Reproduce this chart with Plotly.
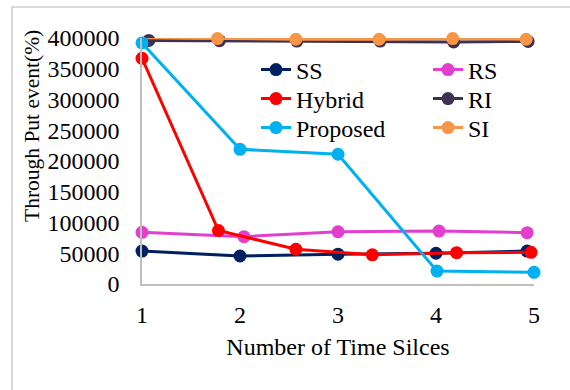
import plotly.graph_objects as go

# ---- data ----
ss_x = [1, 2, 3, 4, 4.93]
ss_y = [53500, 45500, 48500, 50000, 53500]

rs_x = [1, 2.04, 3, 4.03, 4.93]
rs_y = [84000, 77000, 85000, 86000, 83500]

hybrid_x = [1, 1.78, 2.57, 3.35, 4.21, 4.97]
hybrid_y = [367000, 87000, 56500, 47500, 51000, 51500]

ri_x = [1.07, 1.79, 2.58, 3.43, 4.18, 4.94]
ri_y = [396000, 395500, 395000, 395000, 393500, 394500]

proposed_x = [1, 2, 3, 4.01, 5]
proposed_y = [392000, 219000, 211000, 21000, 19000]

si_x = [1.05, 1.77, 2.57, 3.42, 4.17, 4.92]
si_y = [400500, 399000, 398000, 398000, 399000, 398000]

x_ticks = [1, 2, 3, 4, 5]
y_ticks = [0, 50000, 100000, 150000, 200000, 250000, 300000, 350000, 400000]

series = [
    ("SS", ss_x, ss_y, "#002060"),
    ("RS", rs_x, rs_y, "#E33FCF"),
    ("Hybrid", hybrid_x, hybrid_y, "#FF0000"),
    ("RI", ri_x, ri_y, "#403152"),
    ("Proposed", proposed_x, proposed_y, "#00B0F0"),
    ("SI", si_x, si_y, "#F79646"),
]

FONT = "Liberation Serif, Times New Roman, serif"
FS = 24

W, H = 570, 390
L, R, T, B = 142, 36, 38, 106
pw = W - L - R
ph = H - T - B

# legend slot for each series: (column marker px, row centre px)
legend_cols = [276, 448]
legend_rows = [70, 99, 128]

fig = go.Figure()
legends = {}
for i, (name, xs, ys, col) in enumerate(series):
    lg = "legend" if i == 0 else f"legend{i + 1}"
    fig.add_trace(go.Scatter(
        x=xs, y=ys, name=name, mode="lines+markers",
        line=dict(color=col, width=3),
        marker=dict(color=col, size=13),
        cliponaxis=False, legend=lg,
    ))
    cx = legend_cols[i % 2]
    cy = legend_rows[i // 2]
    legends[lg] = dict(
        x=(cx - 20 - L) / pw, xanchor="left",
        y=(284 - cy) / ph, yanchor="middle",
        bgcolor="rgba(0,0,0,0)", borderwidth=0,
        font=dict(family=FONT, size=FS, color="black"),
        itemclick=False, itemdoubleclick=False,
    )

fig.update_layout(
    width=W, height=H,
    margin=dict(l=L, r=R, t=T, b=B),
    paper_bgcolor="white", plot_bgcolor="white",
    font=dict(family=FONT, size=FS, color="black"),
    showlegend=True,
    **legends,
    xaxis=dict(
        range=[1, 5], tickvals=x_ticks, ticktext=[str(v) for v in x_ticks],
        showgrid=False, zeroline=False,
        showline=True, linecolor="#BFBFBF", linewidth=1.5,
        ticks="outside", ticklen=8, tickcolor="rgba(0,0,0,0)",
        title=dict(text="Number of Time Silces", standoff=12,
                   font=dict(family=FONT, size=FS)),
        tickfont=dict(family=FONT, size=FS),
    ),
    yaxis=dict(
        range=[0, 400000], tickvals=y_ticks, ticktext=[str(v) for v in y_ticks],
        showgrid=False, zeroline=False,
        showline=True, linecolor="#BFBFBF", linewidth=1.5,
        ticks="outside", ticklen=16, tickcolor="rgba(0,0,0,0)",
        tickfont=dict(family=FONT, size=FS),
    ),
    annotations=[dict(
        text="Through Put event(%)", textangle=-90,
        xref="paper", yref="paper",
        x=(32 - L) / pw, y=(284 - 126) / ph,
        xanchor="center", yanchor="middle", showarrow=False,
        font=dict(family=FONT, size=21.5),
    )],
    shapes=[dict(
        type="rect", xref="paper", yref="paper",
        x0=(12 - L) / pw, x1=2, y0=-2, y1=(284 - 7) / ph,
        line=dict(color="#D9D9D9", width=2), layer="below",
    )],
)

fig.write_html("out.html")
